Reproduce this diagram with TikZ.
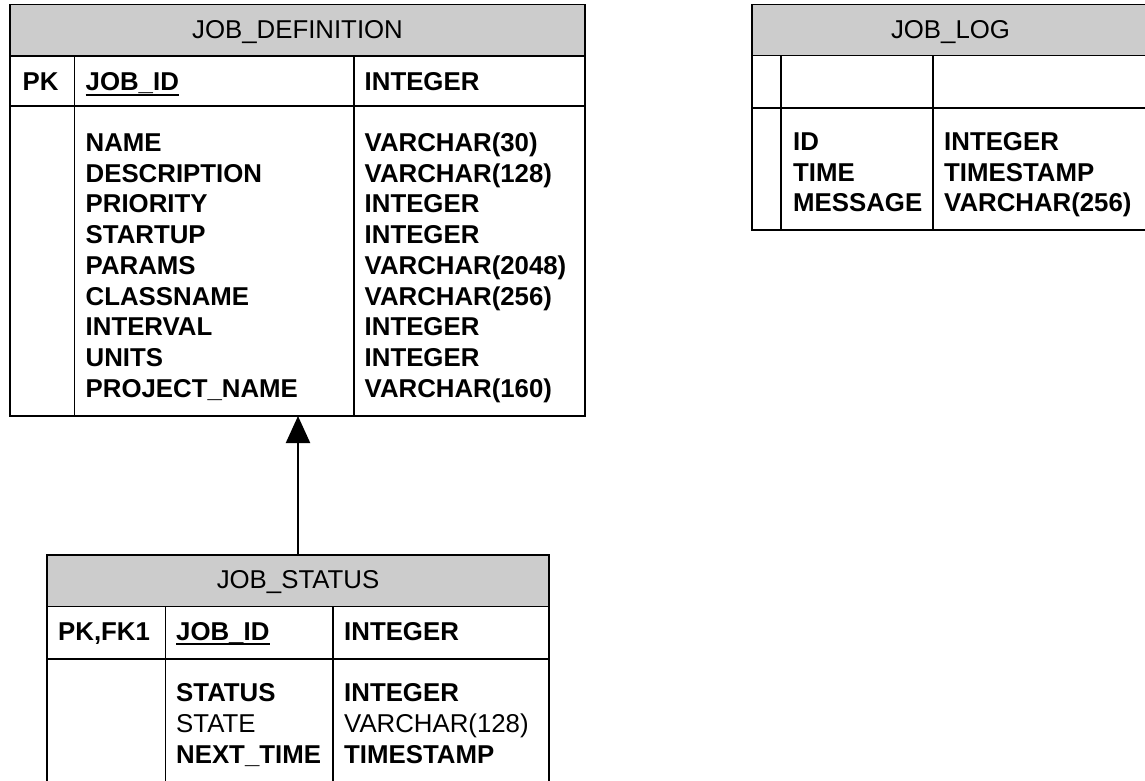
\documentclass[tikz,border=0pt]{standalone}
\usepackage{fontspec}
\setmainfont{Liberation Sans}
\usetikzlibrary{arrows.meta}
\definecolor{hdrgray}{RGB}{204,204,204}
\begin{document}
\begin{tikzpicture}[x=1pt,y=-1pt,
  box/.style={draw, line width=1.6pt, inner sep=0pt, outer sep=0pt, anchor=north west},
  sep/.style={line width=1.3pt},
  ttl/.style={font=\fontsize{25.8}{30.8}\selectfont, inner sep=0pt, anchor=base},
  attr/.style={font=\fontsize{25.8}{30.8}\selectfont\bfseries, inner sep=0pt, anchor=base west},
  attrn/.style={font=\fontsize{25.8}{30.8}\selectfont, inner sep=0pt, anchor=base west},
  uln/.style={line width=1.9pt},
  link/.style={line width=2.2pt, -{Triangle[length=27pt, width=24pt]}}
]
\useasboundingbox (0,0) rectangle (1145,780);
\clip (0,0) rectangle (1145,780);

% ---------------- JOB_DEFINITION ----------------
\fill[hdrgray] (10,4.5) rectangle (585,56);
\draw[sep] (10,56) -- (585,56);
\draw[sep] (10,106) -- (585,106);
\draw[sep] (74.5,56) -- (74.5,416);
\draw[sep] (354,56) -- (354,416);
\node[box, minimum width=575pt, minimum height=411.5pt] (jd) at (10,4.5) {};
\node[ttl] (jd-title) at (297.5,38.5) {JOB\_DEFINITION};
\node[attr] (jd-pk) at (22.5,90.5) {PK};
\node[attr] (jd-id) at (85.5,90.5) {JOB\_ID};
\draw[uln] ([yshift=-4.3pt]jd-id.base west) -- ([yshift=-4.3pt]jd-id.base east);
\node[attr] (jd-idt) at (364.5,90.5) {INTEGER};
\foreach \t [count=\i from 0] in {NAME,DESCRIPTION,PRIORITY,STARTUP,PARAMS,CLASSNAME,INTERVAL,UNITS,PROJECT\_NAME}
  \node[attr] (jd-a\i) at (85.5,{151.5+30.7*\i}) {\t};
\foreach \t [count=\i from 0] in {VARCHAR(30),VARCHAR(128),INTEGER,INTEGER,VARCHAR(2048),VARCHAR(256),INTEGER,INTEGER,VARCHAR(160)}
  \node[attr] (jd-t\i) at (364.5,{151.5+30.7*\i}) {\t};

% ---------------- JOB_LOG ----------------
\fill[hdrgray] (752,4.5) rectangle (1149,55.5);
\draw[sep] (752,55.5) -- (1149,55.5);
\draw[sep] (752,108) -- (1149,108);
\draw[sep] (781,55.5) -- (781,230);
\draw[sep] (933,55.5) -- (933,230);
\node[box, minimum width=397pt, minimum height=225.5pt] (jl) at (752,4.5) {};
\node[ttl] (jl-title) at (950.5,38.5) {JOB\_LOG};
\foreach \t [count=\i from 0] in {ID,TIME,MESSAGE}
  \node[attr] (jl-a\i) at (793,{150.3+30.7*\i}) {\t};
\foreach \t [count=\i from 0] in {INTEGER,TIMESTAMP,VARCHAR(256)}
  \node[attr] (jl-t\i) at (944,{150.3+30.7*\i}) {\t};

% ---------------- JOB_STATUS ----------------
\fill[hdrgray] (47,555) rectangle (549,606.5);
\draw[sep] (47,606.5) -- (549,606.5);
\draw[sep] (47,659) -- (549,659);
\draw[sep] (165.5,606.5) -- (165.5,790);
\draw[sep] (333,606.5) -- (333,790);
\node[box, minimum width=502pt, minimum height=230pt] (js) at (47,555) {};
\node[ttl] (js-title) at (298,588.5) {JOB\_STATUS};
\node[attr] (js-pk) at (58,640) {PK,FK1};
\node[attr] (js-id) at (176,640) {JOB\_ID};
\draw[uln] ([yshift=-4.3pt]js-id.base west) -- ([yshift=-4.3pt]js-id.base east);
\node[attr] (js-idt) at (344,640) {INTEGER};
\node[attr]  (js-a0) at (176,701.5) {STATUS};
\node[attrn] (js-a1) at (176,732.3) {STATE};
\node[attr]  (js-a2) at (176,763.1) {NEXT\_TIME};
\node[attr]  (js-t0) at (344,701.5) {INTEGER};
\node[attrn] (js-t1) at (344,732.3) {VARCHAR(128)};
\node[attr]  (js-t2) at (344,763.1) {TIMESTAMP};

% ---------------- relationship ----------------
\draw[link] (js.north) -- (js.north |- jd.south);
\end{tikzpicture}
\end{document}
